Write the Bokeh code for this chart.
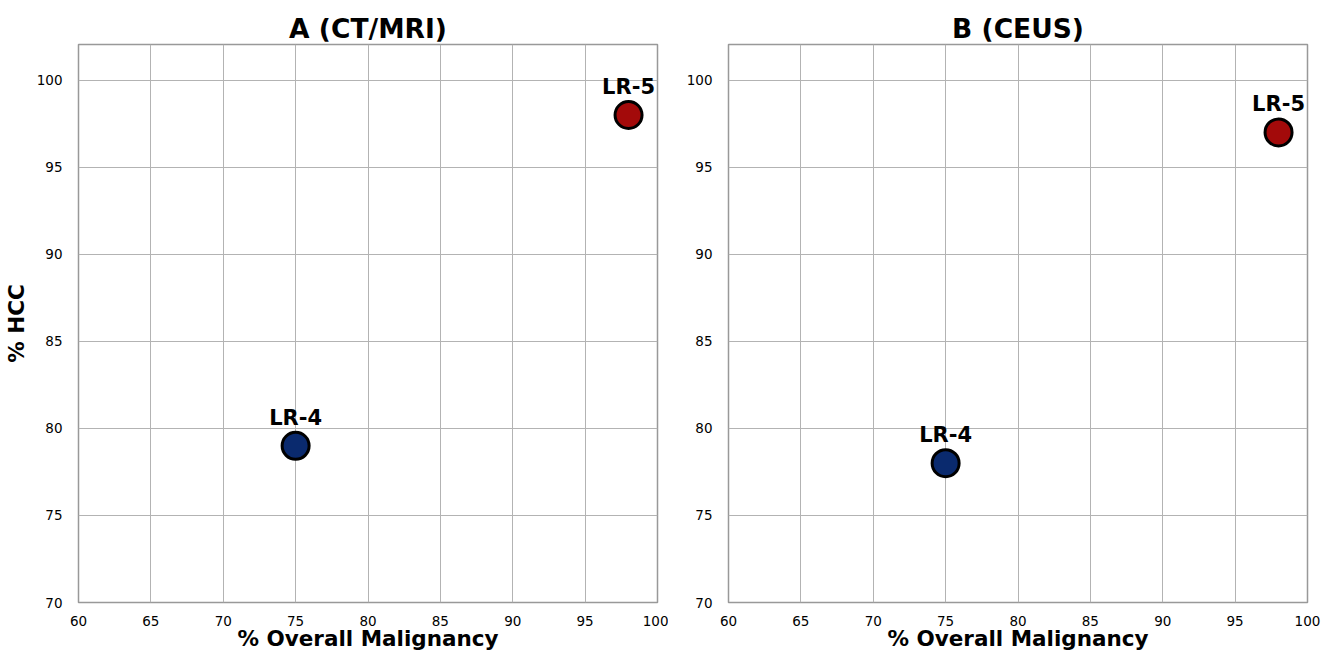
from bokeh.plotting import figure
from bokeh.layouts import row
from bokeh.models import ColumnDataSource, Range1d, FixedTicker
from bokeh.core.properties import value
from bokeh.embed import file_html
from bokeh.resources import INLINE

categories = ["LR-4", "LR-5"]
colors = ["#0a2a6e", "#a30a0a"]
malig_ctmri = [75, 98]
hcc_ctmri = [79, 98]
malig_ceus = [75, 98]
hcc_ceus = [78, 97]
titles = ["A (CT/MRI)", "B (CEUS)"]
x_ticks = [60, 65, 70, 75, 80, 85, 90, 95, 100]
y_ticks = [70, 75, 80, 85, 90, 95, 100]

FONT = "DejaVu Sans"


def make_panel(title, xs, ys, width, bl, br, ylabel):
    p = figure(width=width, height=653, output_backend="svg", toolbar_location=None,
               x_range=Range1d(60, 100), y_range=Range1d(70, 102.05),
               min_border_left=bl, min_border_right=br, min_border_top=44, min_border_bottom=46)
    p.title.text = title
    p.title.align = "center"
    p.title.text_font = FONT
    p.title.text_font_size = "26.5px"
    p.title.text_font_style = "bold"
    p.title.text_color = "black"
    p.title.offset = 0
    p.title.standoff = 2
    for ax in (p.xaxis[0], p.yaxis[0]):
        ax.major_tick_line_color = None
        ax.minor_tick_line_color = None
        ax.axis_line_color = None
        ax.major_label_text_font = FONT
        ax.major_label_text_font_size = "13.5px"
        ax.major_label_text_color = "black"
        ax.axis_label_text_font = FONT
        ax.axis_label_text_font_size = "21.5px"
        ax.axis_label_text_font_style = "bold"
        ax.axis_label_text_color = "black"
    p.xaxis.ticker = FixedTicker(ticks=x_ticks)
    p.yaxis.ticker = FixedTicker(ticks=y_ticks)
    p.xaxis.major_label_standoff = 7
    p.yaxis.major_label_standoff = 10
    p.xaxis.axis_label = "% Overall Malignancy"
    p.xaxis.axis_label_standoff = -3
    if ylabel:
        p.yaxis.axis_label = ylabel
        p.yaxis.axis_label_standoff = 5
    p.xgrid.grid_line_color = "#b3b3b3"
    p.ygrid.grid_line_color = "#b3b3b3"
    p.xgrid.grid_line_width = 1
    p.ygrid.grid_line_width = 1
    p.outline_line_color = "#999999"
    p.outline_line_width = 1.5
    p.outline_line_alpha = 1
    src = ColumnDataSource(dict(x=xs, y=ys, c=colors, t=categories))
    p.scatter("x", "y", source=src, size=27, fill_color="c", line_color="black", line_width=3)
    p.text("x", "y", text="t", source=src, text_font=value(FONT), text_font_size="21px",
           text_font_style="bold", text_align="center", text_baseline="bottom", y_offset=-16,
           text_color="black")
    return p


p1 = make_panel(titles[0], malig_ctmri, hcc_ctmri, 668, 78, 11, "% HCC")
p2 = make_panel(titles[1], malig_ceus, hcc_ceus, 654, 60, 15, None)
layout = row(p1, p2)
open("out.html", "w").write(file_html(layout, INLINE))
